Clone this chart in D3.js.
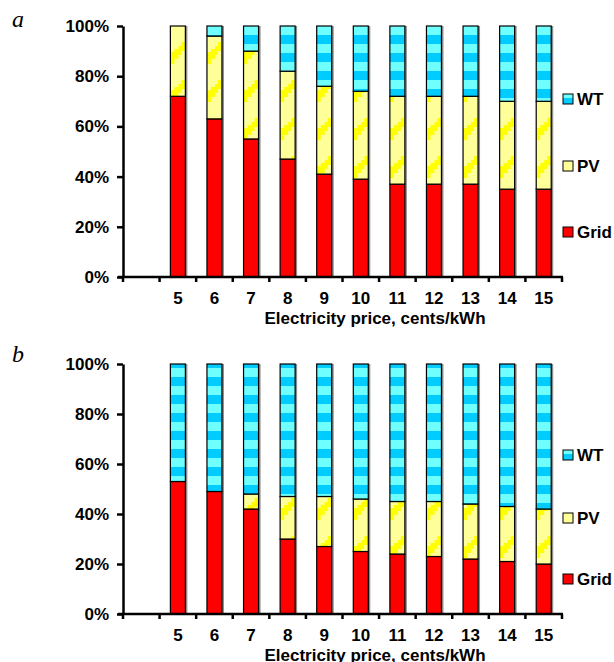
<!DOCTYPE html>
<html>
<head>
<meta charset="utf-8">
<script src="https://cdn.jsdelivr.net/npm/d3@7"></script>
<style>
  body { margin: 0; background: #fff; }
  svg text { font-family: "Liberation Sans", Arial, sans-serif; font-weight: bold; }
</style>
</head>
<body>
<div id="chart"></div>
<script>
// electricity price categories (first slot of the axis is empty)
const prices = ["5", "6", "7", "8", "9", "10", "11", "12", "13", "14", "15"]
const xSlots = [""].concat(prices)

// panel a shares, %
const gridA = [72, 63, 55, 47, 41, 39, 37, 37, 37, 35, 35]
const pvA   = [28, 33, 35, 35, 35, 35, 35, 35, 35, 35, 35]
const wtA   = [0, 4, 10, 18, 24, 26, 28, 28, 28, 30, 30]

// panel b shares, %
const gridB = [53, 49, 42, 30, 27, 25, 24, 23, 22, 21, 20]
const pvB   = [0, 0, 6, 17, 20, 21, 21, 22, 22, 22, 22]
const wtB   = [47, 51, 52, 53, 53, 54, 55, 55, 56, 57, 58]

const yTicks = [0, 20, 40, 60, 80, 100]
const keys = ["grid", "pv", "wt"]
const legendNames = { wt: "WT", pv: "PV", grid: "Grid" }
const xTitle = "Electricity price, cents/kWh"

const width = 614
const height = 662

const svg = d3.select("#chart")
  .append("svg")
  .attr("width", width)
  .attr("height", height)

const defs = svg.append("defs")

// WT: horizontal cyan stripes
const wtPat = defs.append("pattern")
  .attr("id", "pat-wt")
  .attr("patternUnits", "userSpaceOnUse")
  .attr("width", 16).attr("height", 18)
wtPat.append("rect").attr("width", 16).attr("height", 18).attr("fill", "#00ccff")
wtPat.append("rect").attr("y", 8).attr("width", 16).attr("height", 9).attr("fill", "#70ffff")

// PV: pale yellow with stepped yellow band
const pvPat = defs.append("pattern")
  .attr("id", "pat-pv")
  .attr("patternUnits", "userSpaceOnUse")
  .attr("width", 16).attr("height", 38)
pvPat.append("rect").attr("width", 16).attr("height", 38).attr("fill", "#ffff99")
pvPat.append("polygon")
  .attr("points", "0,14 4,14 4,11 8,11 8,8 11,8 11,4 16,4 16,13 11,13 11,17 8,17 8,21 4,21 4,26 0,26")
  .attr("fill", "#ffff00")

const fills = { grid: "#ff0000", pv: "url(#pat-pv)", wt: "url(#pat-wt)" }

const x = d3.scaleBand()
  .domain(xSlots)
  .range([123, 562])
  .paddingInner(0.59)
  .paddingOuter(0.295)

const stack = d3.stack().keys(keys)

function drawPanel(label, grid, pv, wt, top, bottom, legendY, labelY) {
  const rows = prices.map((p, i) => ({ price: p, grid: grid[i], pv: pv[i], wt: wt[i] }))
  const series = stack(rows)

  const y = d3.scaleLinear().domain([0, 100]).range([bottom, top])

  const g = svg.append("g")

  // panel letter
  g.append("text")
    .attr("x", 12)
    .attr("y", labelY)
    .style("font-family", "'Liberation Serif', 'Times New Roman', serif")
    .style("font-style", "italic")
    .style("font-weight", "normal")
    .style("font-size", "24px")
    .text(label)

  // bar shadows
  g.append("g")
    .selectAll("rect")
    .data(rows)
    .enter()
    .append("rect")
    .attr("x", d => x(d.price) + 2)
    .attr("y", y(100))
    .attr("width", x.bandwidth())
    .attr("height", y(0) - y(100))
    .attr("fill", "#8c8c8c")

  // stacked segments, each bar in its own group so patterns line up with the bar
  const bars = g.append("g")
    .selectAll("g")
    .data(rows)
    .enter()
    .append("g")
    .attr("transform", d => `translate(${x(d.price)},0)`)

  keys.forEach((k, ki) => {
    bars.filter(d => d[k] > 0)
      .append("rect")
      .attr("x", 0)
      .attr("y", (d, i) => y(series[ki][prices.indexOf(d.price)][1]))
      .attr("width", x.bandwidth())
      .attr("height", d => {
        const s = series[ki][prices.indexOf(d.price)]
        return y(s[0]) - y(s[1])
      })
      .attr("fill", fills[k])
      .attr("stroke", "#000")
      .attr("stroke-width", 1.2)
  })

  // y axis
  const yAxis = g.append("g")
    .attr("transform", `translate(${x.range()[0]},0)`)
    .call(d3.axisLeft(y).tickValues(yTicks).tickFormat(d => d + "%").tickSize(6).tickSizeOuter(0))
  yAxis.attr("font-family", null)
  yAxis.select(".domain").attr("stroke-width", 2.5)
  yAxis.selectAll(".tick line").attr("stroke-width", 2.5)
  yAxis.selectAll("text").style("font-size", "17px").attr("x", -14).attr("fill", "#000")

  // x axis labels
  const xAxis = g.append("g")
    .attr("transform", `translate(0,${bottom})`)
    .call(d3.axisBottom(x).tickSize(0).tickSizeOuter(0))
  xAxis.attr("font-family", null)
  xAxis.select(".domain").attr("stroke-width", 2.5).attr("d", `M${x.range()[0] - 5},0H${x.range()[1] + 1}`)
  xAxis.selectAll("text").style("font-size", "17px").attr("y", 15).attr("fill", "#000")

  // boundary tick marks between categories
  const bounds = d3.range(xSlots.length + 1).map(i => x.range()[0] + i * x.step())
  g.append("g")
    .selectAll("line")
    .data(bounds)
    .enter()
    .append("line")
    .attr("x1", d => d).attr("x2", d => d)
    .attr("y1", bottom).attr("y2", bottom + 5)
    .attr("stroke", "#000")
    .attr("stroke-width", 2.5)

  g.append("text")
    .attr("x", 375)
    .attr("y", bottom + 47)
    .attr("text-anchor", "middle")
    .style("font-size", "17px")
    .text(xTitle)

  // legend
  const lg = g.append("g")
    .selectAll("g")
    .data(["wt", "pv", "grid"])
    .enter()
    .append("g")
    .attr("transform", (d, i) => `translate(563,${legendY[i]})`)
  lg.append("rect")
    .attr("x", 0).attr("y", -5)
    .attr("width", 10).attr("height", 10)
    .attr("fill", d => fills[d])
    .attr("stroke", "#000")
    .attr("stroke-width", 1)
  lg.append("text")
    .attr("x", 14)
    .attr("y", 6)
    .style("font-size", "17px")
    .text(d => legendNames[d])
}

drawPanel("a", gridA, pvA, wtA, 26, 277, [99, 166, 232], 27)
drawPanel("b", gridB, pvB, wtB, 364, 614, [455, 518, 579], 362)
</script>
</body>
</html>
